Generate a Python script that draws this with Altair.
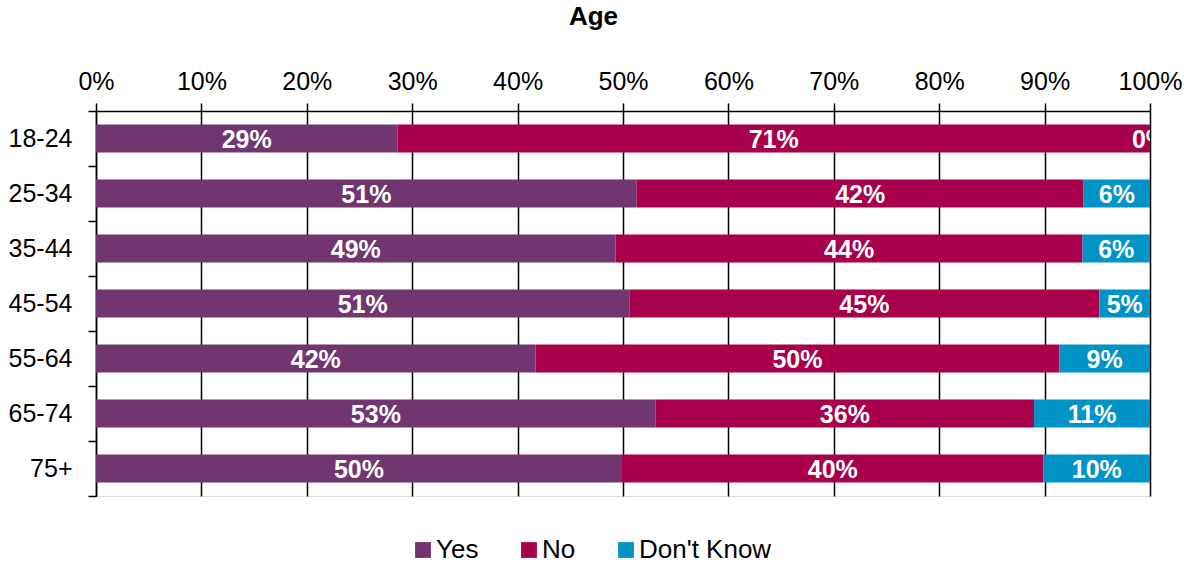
import altair as alt
import pandas as pd

ages = ["18-24", "25-34", "35-44", "45-54", "55-64", "65-74", "75+"]
responses = ["Yes", "No", "Don't Know"]
yes_vals = [28.6, 51.3, 49.3, 50.6, 41.7, 53.1, 49.9]
no_vals = [71.4, 42.4, 44.3, 44.6, 49.7, 35.9, 40.0]
dk_vals = [0.0, 6.3, 6.4, 4.8, 8.6, 11.0, 10.1]
colors = ["#713570", "#A8004A", "#0093C8"]
x_ticks = [0, 10, 20, 30, 40, 50, 60, 70, 80, 90, 100]

rows = []
for i, a in enumerate(ages):
    for j, (r, vals) in enumerate(zip(responses, [yes_vals, no_vals, dk_vals])):
        rows.append({"age": a, "response": r, "order": j, "value": vals[i]})
df = pd.DataFrame(rows)

FONT = "Liberation Sans"

base = alt.Chart(df).transform_stack(
    stack="value", groupby=["age"], as_=["x0", "x1"],
    sort=[alt.SortField("order", order="ascending")]
).transform_calculate(
    mid="(datum.x0 + datum.x1) / 2",
    label="format(datum.value, '.0f') + '%'"
)

y_enc = alt.Y("age:N", sort=ages, scale=alt.Scale(paddingInner=0, paddingOuter=0),
              axis=alt.Axis(title=None, tickBand="extent", tickSize=8, tickColor="black",
                            domainColor="black", domainWidth=1.5, tickWidth=1.5,
                            labelFont=FONT, labelFontSize=25, labelColor="black",
                            labelPadding=16, grid=False))

bars = base.mark_bar(height=alt.RelativeBandSize(0.51)).encode(
    x=alt.X("x0:Q", scale=alt.Scale(domain=[0, 100], nice=False),
            axis=alt.Axis(orient="top", values=x_ticks, labelExpr="datum.value + '%'",
                          labelFlush=False, labelOverlap=False,
                          title="Age", titleFont=FONT, titleFontSize=26, titleFontWeight="bold",
                          titleX=497, titleY=-87, titleBaseline="alphabetic", titleAlign="center",
                          titleColor="black",
                          labelFont=FONT, labelFontSize=25, labelColor="black", labelPadding=9,
                          tickSize=8, tickColor="black", tickWidth=1.5,
                          domainColor="black", domainWidth=1.5,
                          grid=True, gridColor="black", gridWidth=1.5, gridOpacity=1)),
    x2="x1:Q",
    y=y_enc,
    color=alt.Color("response:N", scale=alt.Scale(domain=responses, range=colors),
                    legend=alt.Legend(title=None, orient="none", direction="horizontal",
                                      legendX=314, legendY=426, padding=0,
                                      symbolType="square", symbolSize=250, symbolStrokeWidth=0,
                                      labelFont=FONT, labelFontSize=26, labelColor="black",
                                      labelOffset=0, columnPadding=37)),
    order=alt.Order("order:Q"),
)

labels = base.mark_text(color="white", font=FONT, fontSize=25, fontWeight="bold",
                        baseline="middle", align="center", clip=True, dy=1).encode(
    x=alt.X("mid:Q"),
    y=alt.Y("age:N", sort=ages),
    text="label:N",
)

chart = alt.layer(bars, labels).properties(
    width=1054, height=385,
    autosize=alt.AutoSizeParams(type="none"),
    padding={"left": 96, "top": 111, "right": 34, "bottom": 67},
).configure_view(stroke=None).configure(background="white")

chart.save("out.html", embed_options={"renderer": "svg", "actions": False})
